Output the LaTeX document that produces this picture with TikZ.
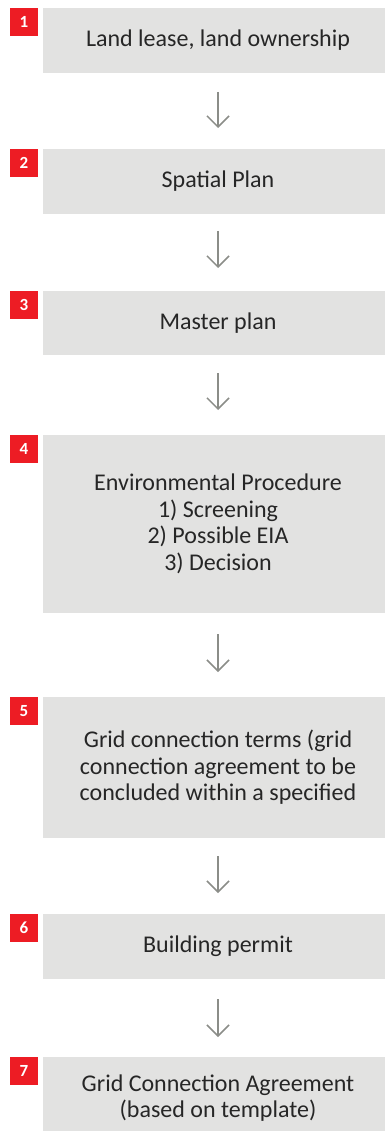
\documentclass[tikz,border=0pt]{standalone}
\usepackage{fontspec}
\setmainfont{Carlito}
\usetikzlibrary{arrows.meta}
\definecolor{stepgray}{HTML}{E2E2E1}
\definecolor{stepred}{HTML}{ED1C24}
\definecolor{arrowgray}{HTML}{8B8D88}
\definecolor{txtgray}{HTML}{262626}
\begin{document}
\begin{tikzpicture}[x=1pt,y=-1pt,inner sep=0pt,outer sep=0pt,
  stepbox/.style={anchor=north west,fill=stepgray,minimum width=334pt,align=center,
    text=txtgray,font=\fontsize{24}{26.5}\selectfont},
  badge/.style={anchor=north west,fill=stepred,minimum width=28pt,minimum height=28pt,
    text=white,font=\fontsize{17}{17}\selectfont\bfseries},
  flow/.style={draw=arrowgray,line width=1.5pt,-{Straight Barb[length=11pt,width=22pt]}}]
  \useasboundingbox (0,0) rectangle (385,1131);
  % steps
  \node[stepbox,minimum height=65pt] (lease) at (51,8) {Land lease, land ownership};
  \node[stepbox,minimum height=65pt] (spatial) at (51,149) {Spatial Plan};
  \node[stepbox,minimum height=64pt] (master) at (51,291) {Master plan};
  \node[stepbox,minimum height=178pt] (envproc) at (51,435)
    {Environmental Procedure\\1) Screening\\2) Possible EIA\\3) Decision};
  \node[stepbox,minimum height=141pt] (gridterms) at (51,697)
    {Grid connection terms (grid\\connection agreement to be\\concluded within a specified};
  \node[stepbox,minimum height=65pt] (permit) at (51,914) {Building permit};
  \node[stepbox,minimum height=82pt] (gridagr) at (51,1057)
    {Grid Connection Agreement\\(based on template)};
  % left margin of the boxes and the red numbers
  \foreach \b/\n in {lease/1,spatial/2,master/3,envproc/4,gridterms/5,permit/6,gridagr/7}{
    \fill[stepgray] ([xshift=0.5pt]\b.north west) rectangle ([xshift=-8pt]\b.south west);
    \node[badge] (num\n) at ([xshift=-41pt]\b.north west) {\n};
  }
  % arrows
  \foreach \a/\b/\s/\e in {lease/spatial/19/21,spatial/master/17/23,master/envproc/18/25,
    envproc/gridterms/21/25,gridterms/permit/18/21,permit/gridagr/20/20}
    \draw[flow,shorten <=\s pt,shorten >=\e pt] (\a) (\a.south) -- (\a.south |- \b.north);
\end{tikzpicture}
\end{document}
